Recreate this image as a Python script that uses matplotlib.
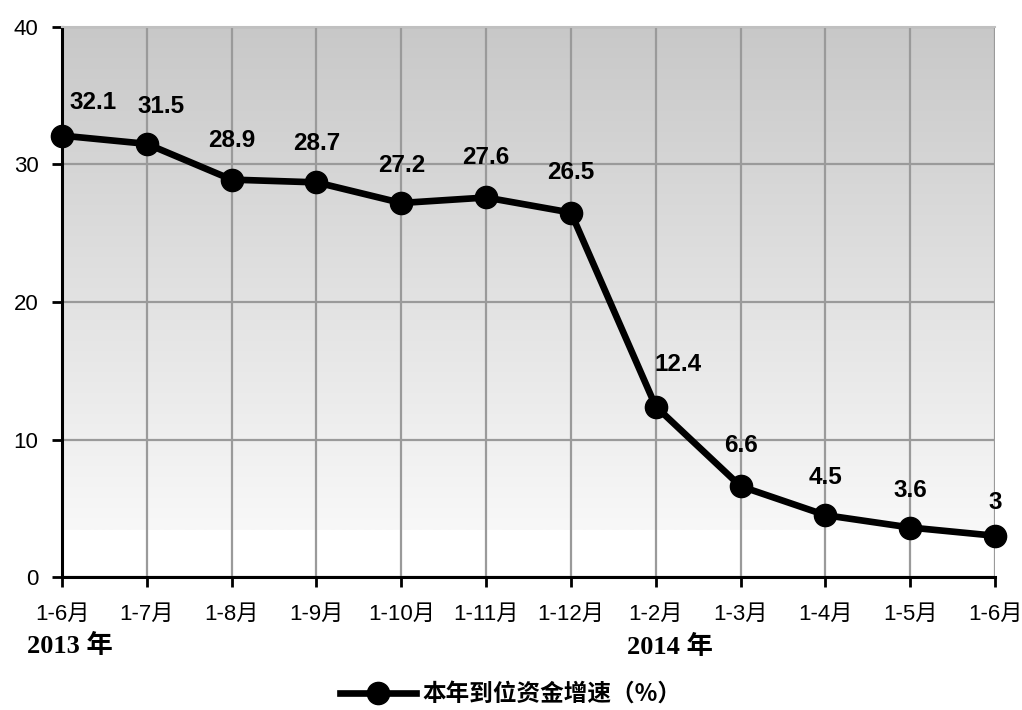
import numpy as np
import matplotlib.pyplot as plt
from matplotlib.colors import LinearSegmentedColormap

plt.rcParams['font.family'] = ['Liberation Sans', 'Noto Sans CJK SC']

months = ["1-6月", "1-7月", "1-8月", "1-9月", "1-10月", "1-11月", "1-12月",
          "1-2月", "1-3月", "1-4月", "1-5月", "1-6月"]
growth = [32.1, 31.5, 28.9, 28.7, 27.2, 27.6, 26.5, 12.4, 6.6, 4.5, 3.6, 3]
label_shift = [(22, 24), (10, 27), (0, 28), (0, 28), (0, 27), (0, 29), (0, 29),
               (16, 30), (0, 29), (0, 27), (0, 27), (0, 24)]
series_name = "本年到位资金增速（%）"

x = np.arange(len(months))

fig = plt.figure(figsize=(10.22, 7.10), dpi=100)
ax = fig.add_axes([0.0607, 0.1873, 0.9129, 0.7747])

# grey-to-white backdrop, white strip along the bottom
grad = LinearSegmentedColormap.from_list("bg", ["#f8f8f8", "#c8c8c8"])
ax.imshow(np.linspace(0, 1, 256).reshape(-1, 1)[::-1], cmap=grad, aspect="auto",
          extent=[0, 11, 3.4, 40], zorder=0)

ax.grid(True, color="#9a9a9a", linewidth=1.6, zorder=1)
ax.set_axisbelow(True)

ax.plot(x, growth, color="black", linewidth=4.8, marker="o", markersize=16,
        zorder=3, label=series_name, clip_on=False)

for xi, v, (dx, dy) in zip(x, growth, label_shift):
    ax.annotate(f"{v:g}", (xi, v), xytext=(dx, dy), textcoords="offset points",
                ha="center", va="center", fontsize=17.5, fontweight="bold", zorder=4)

ax.set_xlim(0, 11)
ax.set_ylim(0, 40)
ax.set_yticks([0, 10, 20, 30, 40])
ax.set_xticks(x)
ax.set_xticklabels(months)
ax.tick_params(axis="both", direction="out", length=7, width=2, color="black",
               labelsize=16)
ax.tick_params(axis="x", pad=12)
ax.tick_params(axis="y", pad=10)

for side in ["left", "bottom"]:
    ax.spines[side].set_linewidth(2.2)
    ax.spines[side].set_color("black")
ax.spines["right"].set_visible(False)
ax.spines["top"].set_color("#c0c0c0")
ax.spines["top"].set_linewidth(1.5)

fig.text(0.026, 0.09, "2013 年", fontsize=19, fontweight="bold",
         family=["Liberation Serif", "Noto Sans CJK SC"], va="center")
fig.text(0.6135, 0.089, "2014 年", fontsize=19, fontweight="bold",
         family=["Liberation Serif", "Noto Sans CJK SC"], va="center")

leg = fig.legend(loc="lower center", bbox_to_anchor=(0.5, -0.024), frameon=False,
                 prop={"family": ["Noto Sans CJK SC"], "weight": "bold", "size": 17},
                 handlelength=3.2, handletextpad=0.3)

fig.savefig("out.png", dpi=100)
